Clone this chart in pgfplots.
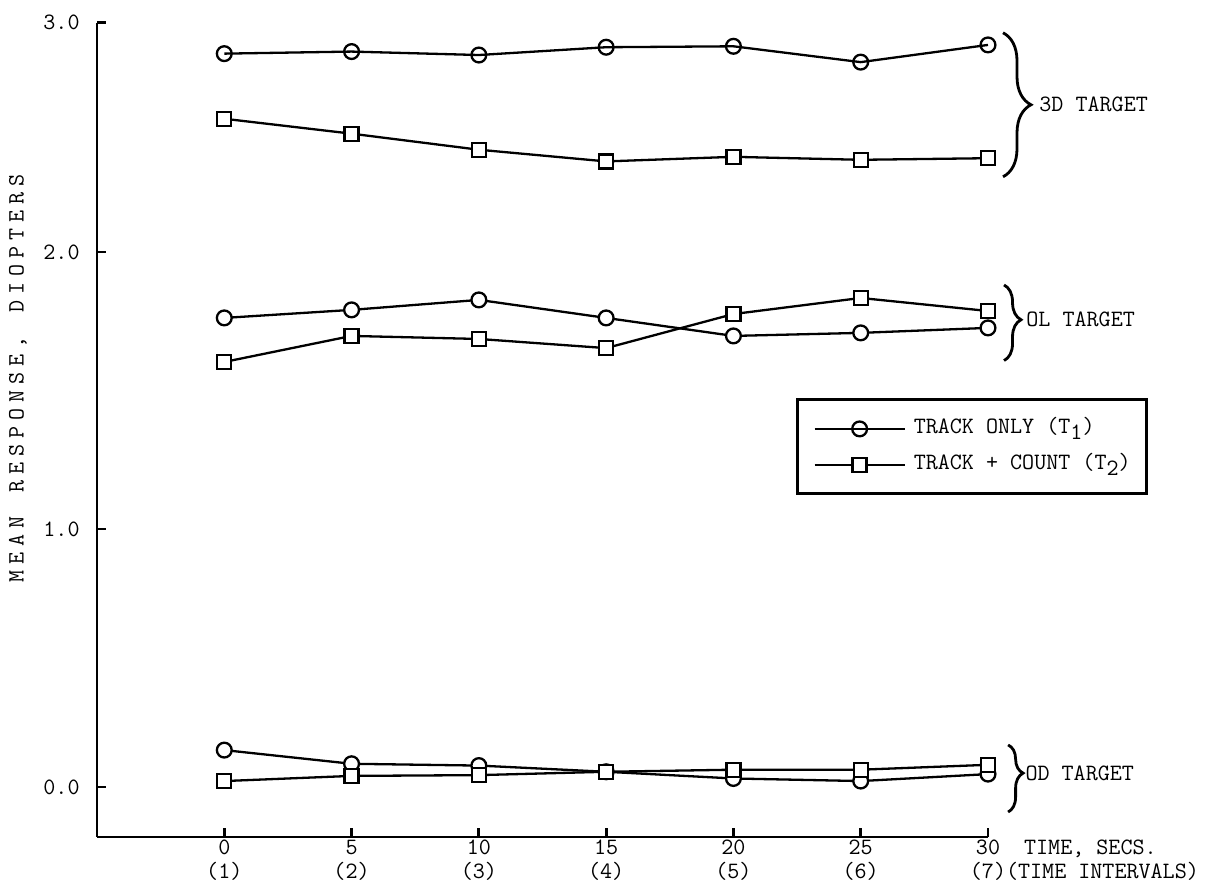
\documentclass[border=0pt]{standalone}
\usepackage{fontspec}
\usepackage{pgfplots}
\usepackage{pgfplotstable}
\pgfplotsset{compat=1.18}
\usetikzlibrary{decorations.pathreplacing}

% Mean response (diopters) at each time interval, T1 = track only, T2 = track + count
\pgfplotstableread{
t   T1     T2
0   2.865  2.581
5   2.874  2.516
10  2.859  2.446
15  2.893  2.395
20  2.897  2.415
25  2.828  2.402
30  2.903  2.409
}\threeD
\pgfplotstableread{
t   T1     T2
0   1.762  1.603
5   1.791  1.697
10  1.827  1.686
15  1.762  1.653
20  1.697  1.776
25  1.708  1.834
30  1.726  1.787
}\OL
\pgfplotstableread{
t   T1     T2
0   0.143  0.023
5   0.090  0.043
10  0.083  0.046
15  0.059  0.059
20  0.033  0.067
25  0.023  0.067
30  0.050  0.086
}\OD

% typewriter face for every label
\newcommand{\tw}{\ttfamily\fontsize{11.7}{11.75}\selectfont}
% one letter of the widely spaced ordinate title
\newcommand{\lt}[1]{\makebox[9pt]{#1}}

\begin{document}
\begin{tikzpicture}
\begin{axis}[
  at={(48.5pt,23pt)}, anchor=south west,
  scale only axis, width=445.5pt, height=407.15pt,
  xmin=-5, xmax=30, ymin=-0.1938, ymax=3,
  % the hand-ruled ordinate has unequal spacing between its unit ticks
  y coord trafo/.code={\pgfmathparse{min(#1,1)+1.07364*max(min(#1,2)-1,0)+0.88876*max(#1-2,0)}},
  y coord inv trafo/.code={\pgfmathparse{min(#1,1)+max(min(#1,2.07364)-1,0)/1.07364+max(#1-2.07364,0)/0.88876}},
  axis lines=left,
  axis line style={-, line width=1.4pt},
  tick align=inside,
  major tick length=4.5pt,
  tick style={line width=1.4pt, black},
  clip=false,
  font=\tw,
  /pgf/number format/assume math mode=true,
  xtick={0,5,10,15,20,25,30},
  xticklabels={{0\\(1)},{5\\(2)},{10\\(3)},{15\\(4)},{20\\(5)},{25\\(6)},
    {30\rlap{\ \ TIME, SECS.}\\(7)\rlap{(TIME INTERVALS)}}},
  xticklabel style={align=center, inner sep=0pt, anchor=north, yshift=-1.5pt, font=\tw},
  ytick={0,1,2,3},
  yticklabels={0.0,1.0,2.0,3.0},
  yticklabel style={inner sep=0pt, anchor=east, xshift=-8.5pt, font=\tw},
  every axis plot/.append style={black, line width=1.15pt,
    mark options={solid, fill=white, line width=1.15pt}},
  legend image code/.code={\draw[mark repeat=2, mark phase=2, #1]
    plot coordinates {(0pt,0pt) (22.5pt,0pt) (45pt,0pt)};},
  legend style={at={(0.7845,0.5386)}, anchor=north west, draw=black,
    line width=1.5pt, font=\tw, inner xsep=8pt, inner ysep=9pt,
    row sep=7pt, column sep=4pt,
    nodes={inner sep=0pt, text height=8pt, text depth=3pt}},
  legend cell align=left,
]
% 3D target
\addplot[mark=o, mark size=3.7pt] table[x=t, y=T1] {\threeD};
\addlegendentry{TRACK ONLY (T\raisebox{-3pt}{1})}
\addplot[mark=square*, mark size=3.5pt] table[x=t, y=T2] {\threeD};
\addlegendentry{TRACK + COUNT (T\raisebox{-3pt}{2})}
% OL target
\addplot[mark=*, mark size=3.7pt, forget plot] table[x=t, y=T1] {\OL};
\addplot[mark=square*, mark size=3.5pt, forget plot] table[x=t, y=T2] {\OL};
% OD target
\addplot[mark=*, mark size=3.7pt, forget plot] table[x=t, y=T1] {\OD};
\addplot[mark=square*, mark size=3.5pt, forget plot] table[x=t, y=T2] {\OD};

% target braces
\draw[line width=1.4pt, decorate, decoration={brace, amplitude=14pt}]
  (axis cs:30.59,2.956) -- (axis cs:30.59,2.328)
  node[pos=0.5, anchor=west, inner sep=0pt, xshift=17.5pt, font=\tw] {3D TARGET};
\draw[line width=1.4pt, decorate, decoration={brace, amplitude=8.5pt, aspect=0.46}]
  (axis cs:30.63,1.881) -- (axis cs:30.63,1.608)
  node[pos=0.46, anchor=west, inner sep=0pt, xshift=10.5pt, font=\tw] {OL TARGET};
\draw[line width=1.4pt, decorate, decoration={brace, amplitude=7.5pt, aspect=0.42}]
  (axis cs:30.79,0.163) -- (axis cs:30.79,-0.097)
  node[pos=0.42, anchor=west, inner sep=0pt, xshift=8pt, font=\tw] {OD TARGET};
\end{axis}
\node[rotate=90, font=\tw, inner sep=0pt] at (9pt,252.5pt)
  {\lt{M}\lt{E}\lt{A}\lt{N}\lt{ }\lt{R}\lt{E}\lt{S}\lt{P}\lt{O}\lt{N}\lt{S}\lt{E}\lt{,}%
   \lt{ }\lt{D}\lt{I}\lt{O}\lt{P}\lt{T}\lt{E}\lt{R}\lt{S}};
\pgfresetboundingbox
\path[use as bounding box] (0,0) rectangle (608pt,441.5pt);
\end{tikzpicture}
\end{document}
